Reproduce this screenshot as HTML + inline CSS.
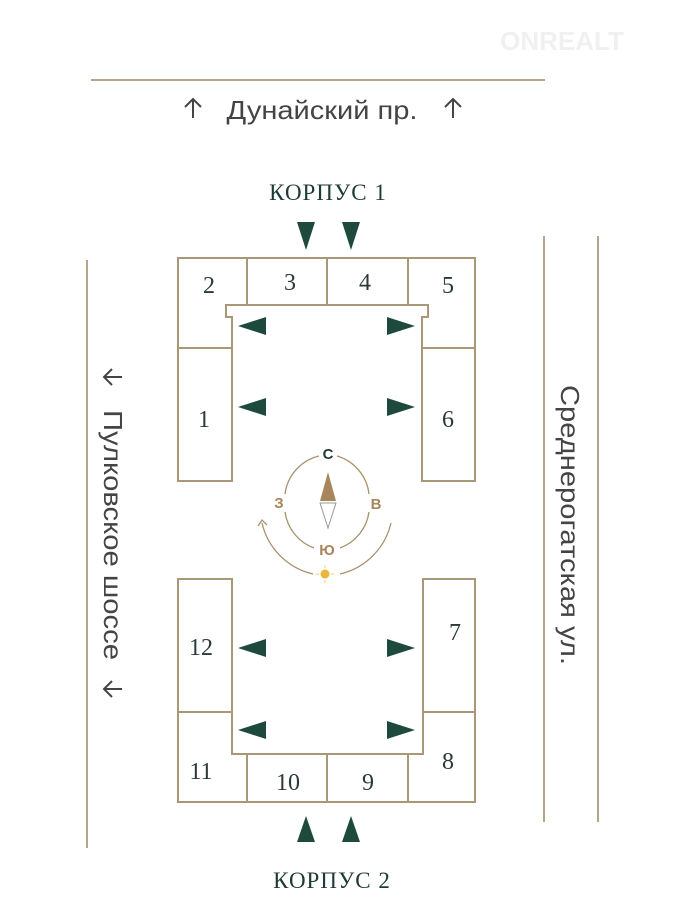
<!DOCTYPE html>
<html><head><meta charset="utf-8"><style>
html,body{margin:0;padding:0;background:#fff;width:679px;height:910px;overflow:hidden}
svg{display:block}
.n{font-family:"Liberation Serif",serif;font-size:24px;fill:#2a3a38;text-anchor:middle}
.s{font-family:"Liberation Sans",sans-serif;fill:#444;font-size:26px}
</style></head><body>
<svg width="679" height="910" viewBox="0 0 679 910" xmlns="http://www.w3.org/2000/svg">
<text x="562" y="50" font-family="Liberation Sans,sans-serif" font-size="26" font-weight="bold" fill="#f0f0f0" text-anchor="middle">ONREALT</text>
<g stroke="#b4a587" stroke-width="2" fill="none">
<line x1="91" y1="80" x2="545" y2="80"/>
<line x1="87" y1="260" x2="87" y2="848"/>
<line x1="544" y1="236" x2="544" y2="822"/>
<line x1="598" y1="236" x2="598" y2="822"/>
</g>
<g stroke="#a89878" stroke-width="2" fill="none">
<path d="M178 258 H475 V481 H422 V317 H428 V305 H226 V317 H232 V481 H178 Z"/>
<path d="M247 258 V305 M327 258 V305 M408 258 V305 M178 348 H232 M422 348 H475"/>
<path d="M178 579 H232 V754 H423 V579 H475 V802 H178 Z"/>
<path d="M247 754 V802 M327 754 V802 M408 754 V802 M178 712 H232 M423 712 H475"/>
</g>
<g class="n">
<text x="209" y="293">2</text><text x="290" y="290">3</text><text x="365" y="290">4</text><text x="448" y="293">5</text>
<text x="204" y="427">1</text><text x="448" y="427">6</text>
<text x="201" y="655">12</text><text x="455" y="640">7</text>
<text x="201" y="779">11</text><text x="288" y="790">10</text><text x="368" y="790">9</text><text x="448" y="769">8</text>
</g>
<g fill="#1e4a3e">
<path d="M297 222 H315 L306 250 Z"/><path d="M342 222 H360 L351 250 Z"/>
<path d="M297 842 H315 L306 816 Z"/><path d="M342 842 H360 L351 816 Z"/>
<path d="M238 326 L266 317 V335 Z"/><path d="M238 407 L266 398 V416 Z"/>
<path d="M415 326 L387 317 V335 Z"/><path d="M415 407 L387 398 V416 Z"/>
<path d="M238 648 L266 639 V657 Z"/><path d="M238 730 L266 721 V739 Z"/>
<path d="M415 648 L387 639 V657 Z"/><path d="M415 730 L387 721 V739 Z"/>
</g>
<text x="328" y="200" text-anchor="middle" font-family="Liberation Serif,serif" font-size="23" fill="#1e3a36" letter-spacing="1">КОРПУС 1</text>
<text x="332" y="888" text-anchor="middle" font-family="Liberation Serif,serif" font-size="23" fill="#1e3a36" letter-spacing="1">КОРПУС 2</text>
<text x="322" y="119" class="s" text-anchor="middle" textLength="191" lengthAdjust="spacingAndGlyphs">Дунайский пр.</text>
<g stroke="#444" stroke-width="2" fill="none">
<path d="M193 118 V99 M185 107 L193 99 L201 107"/>
<path d="M453 118 V99 M445 107 L453 99 L461 107"/>
<path d="M122 377 H104 M112 369 L104 377 L112 385"/>
<path d="M122 689 H104 M112 681 L104 689 L112 697"/>
</g>
<text transform="translate(104,535) rotate(90)" class="s" font-size="26" text-anchor="middle" textLength="250" lengthAdjust="spacingAndGlyphs">Пулковское шоссе</text>
<text transform="translate(561,525) rotate(90)" class="s" font-size="26" text-anchor="middle" textLength="280" lengthAdjust="spacingAndGlyphs">Среднерогатская ул.</text>
<g fill="none" stroke="#a8916c" stroke-width="1.3">
<path d="M337 456 A45 45 0 0 1 369 494"/>
<path d="M319 456 A45 45 0 0 0 285 494"/>
<path d="M285 512 A45 45 0 0 0 314 548"/>
<path d="M369 512 A45 45 0 0 1 340 548"/>
<path d="M262 523 A68 68 0 0 0 313 574"/>
<path d="M391 523 A68 68 0 0 1 340 574"/>
<path d="M258 526 L262 520 L267 525"/>
<path d="M320 503 L328 528 L336 503 Z" stroke="#999" stroke-width="1"/>
</g>
<path d="M320 501 L328 472 L336 501 Z" fill="#a8865c"/>
<circle cx="325" cy="574" r="4.5" fill="#e8b93a"/>
<g stroke="#f0cf6a" stroke-width="1"><path d="M316 574 H319 M331 574 H334 M325 565 V568 M325 580 V583"/></g>
<g font-family="Liberation Sans,sans-serif" font-weight="bold" font-size="15" text-anchor="middle">
<text x="328" y="459" fill="#1e3a36">С</text>
<text x="279" y="508" fill="#a8865c">З</text>
<text x="376" y="509" fill="#a8865c">В</text>
<text x="327" y="555" fill="#a8865c">Ю</text>
</g>
</svg>
</body></html>
